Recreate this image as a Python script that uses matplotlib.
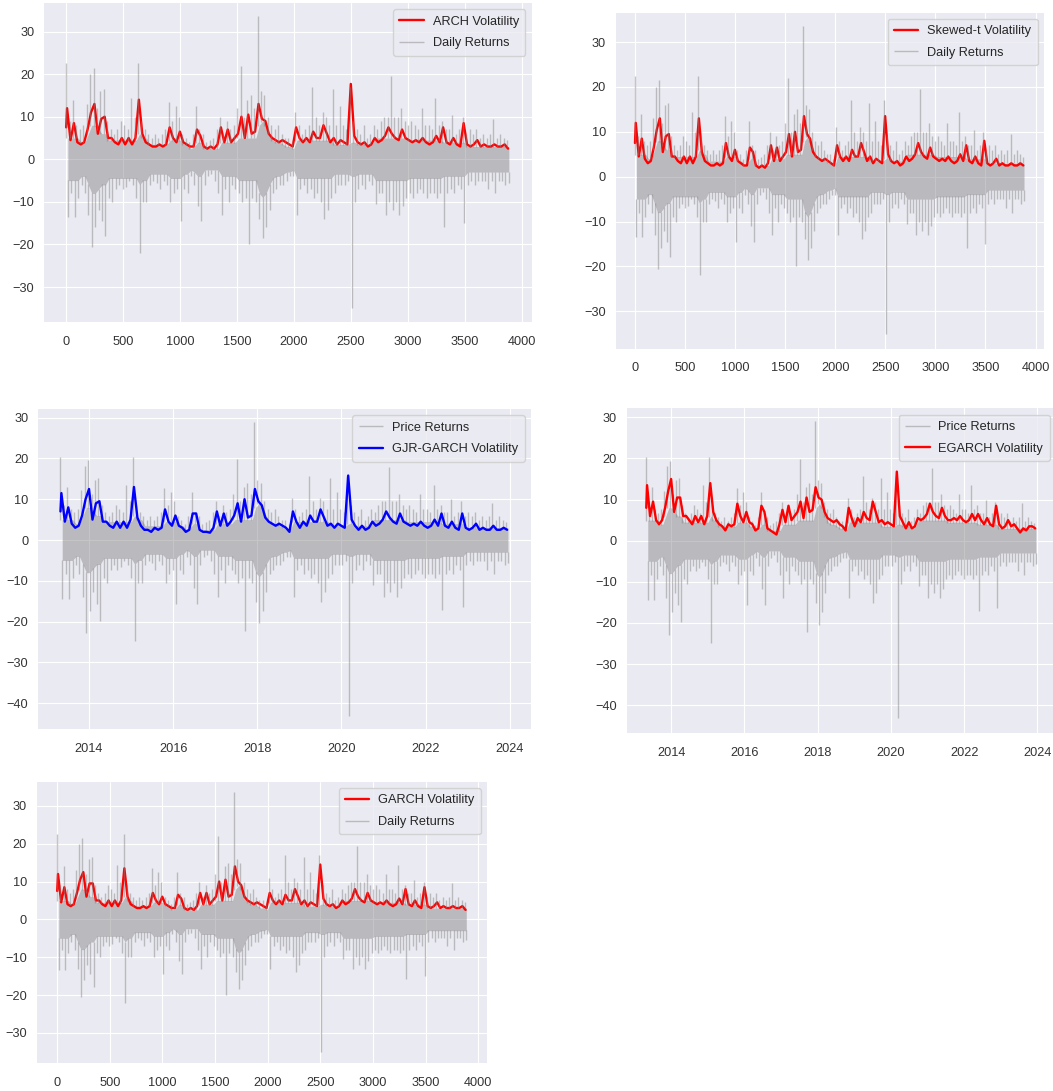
import numpy as np
import pandas as pd
import matplotlib
matplotlib.use("Agg")
import matplotlib.pyplot as plt
import matplotlib.dates as mdates
import seaborn as sns

# ---------------- data (one value per 30-day bin) ----------------
# Daily (simple) returns: bin maxima and minima, panels 1, 2, 5
RET_HI = [22.5, 9, 14, 8, 7, 8, 13, 20, 21.5, 12,
          16, 16.5, 9, 7, 6, 7, 9, 8, 7, 14.5,
          10, 22.5, 9, 7, 6, 5, 6, 5, 6, 7,
          13.5, 9, 12.5, 10, 6, 5, 4, 6, 12.5, 7,
          6, 4, 4.5, 5, 7, 10, 6, 9, 7, 8,
          12, 22, 10, 14, 15, 12, 33.7, 16, 15, 10,
          8, 7, 8, 6, 5, 5, 4, 11, 8, 6,
          7, 8, 17, 10, 8, 11, 10, 8, 16.5, 8,
          12.5, 8, 7, 17, 9, 7, 6, 8, 5, 6,
          8, 7, 9, 10, 10, 19.5, 10, 10, 12, 9,
          8, 9, 8, 7, 12, 8, 8, 7, 14.5, 8,
          9, 7, 7, 10.5, 6, 7, 10, 6, 7, 6,
          7, 5, 6, 5, 6, 9.5, 5, 6, 5, 4.5]
RET_LO = [-13.5, -8, -13.5, -9, -6, -8, -13, -20.5, -16, -12,
          -14.5, -18, -9, -10, -7, -6, -7, -6.5, -5, -6,
          -9, -22, -10, -10, -6, -5, -5.5, -7, -5, -6,
          -10, -8, -7, -14.5, -7, -8, -4, -6, -11, -14.5,
          -6, -4, -3.5, -5, -8, -13, -7, -10, -6, -7,
          -8, -10, -9, -20, -9, -10, -14, -18.5, -16, -12,
          -8, -7, -6, -6, -5, -4, -4, -13, -7, -6,
          -8, -7, -9, -8, -10, -14, -12, -9, -8, -6,
          -6, -6, -5, -35, -10, -7, -6, -7, -5, -6,
          -10.5, -8, -8, -13, -10, -12, -10, -13, -11, -9,
          -8, -9, -8, -7, -8, -9, -8, -8, -9, -8,
          -15.8, -8, -7, -8, -6, -7, -15, -6, -5, -6,
          -5, -5, -5, -7, -5, -8, -5, -5, -6, -5.5]

# Price (log) returns: bin maxima and minima, panels 3, 4
PR_HI = [20.3, 8.6, 13.1, 7.7, 6.8, 7.7, 12.2, 18.2, 19.5, 11.3,
         14.8, 15.3, 8.6, 6.8, 5.8, 6.8, 8.6, 7.7, 6.8, 13.5,
         9.5, 20.3, 8.6, 6.8, 5.8, 4.9, 5.8, 4.9, 5.8, 6.8,
         12.7, 8.6, 11.8, 9.5, 5.8, 4.9, 3.9, 5.8, 11.8, 6.8,
         5.8, 3.9, 4.4, 4.9, 6.8, 9.5, 5.8, 8.6, 6.8, 7.7,
         11.3, 19.9, 9.5, 13.1, 14.0, 11.3, 29.0, 14.8, 14.0, 9.5,
         7.7, 6.8, 7.7, 5.8, 4.9, 4.9, 3.9, 10.4, 7.7, 5.8,
         6.8, 7.7, 15.7, 9.5, 7.7, 10.4, 9.5, 7.7, 15.3, 7.7,
         11.8, 7.7, 6.8, 15.7, 8.6, 6.8, 5.8, 7.7, 4.9, 5.8,
         7.7, 6.8, 8.6, 9.5, 9.5, 17.8, 9.5, 9.5, 11.3, 8.6,
         7.7, 8.6, 7.7, 6.8, 11.3, 7.7, 7.7, 6.8, 13.5, 7.7,
         8.6, 6.8, 6.8, 10.0, 5.8, 6.8, 9.5, 5.8, 6.8, 5.8,
         6.8, 4.9, 5.8, 4.9, 5.8, 9.1, 4.9, 5.8, 4.9, 4.4]
PR_LO = [-14.5, -8.3, -14.5, -9.4, -6.2, -8.3, -13.9, -22.9, -17.4, -12.8,
         -15.7, -19.8, -9.4, -10.5, -7.3, -6.2, -7.3, -6.7, -5.1, -6.2,
         -9.4, -24.8, -10.5, -10.5, -6.2, -5.1, -5.7, -7.3, -5.1, -6.2,
         -10.5, -8.3, -7.3, -15.7, -7.3, -8.3, -4.1, -6.2, -11.7, -15.7,
         -6.2, -4.1, -3.6, -5.1, -8.3, -13.9, -7.3, -10.5, -6.2, -7.3,
         -8.3, -10.5, -9.4, -22.3, -9.4, -10.5, -15.1, -20.4, -17.4, -12.8,
         -8.3, -7.3, -6.2, -6.2, -5.1, -4.1, -4.1, -13.9, -7.3, -6.2,
         -8.3, -7.3, -9.4, -8.3, -10.5, -15.1, -12.8, -9.4, -8.3, -6.2,
         -6.2, -6.2, -5.1, -43.1, -10.5, -7.3, -6.2, -7.3, -5.1, -6.2,
         -11.1, -8.3, -8.3, -13.9, -10.5, -12.8, -10.5, -13.9, -11.7, -9.4,
         -8.3, -9.4, -8.3, -7.3, -8.3, -9.4, -8.3, -8.3, -9.4, -8.3,
         -17.2, -8.3, -7.3, -8.3, -6.2, -7.3, -16.3, -6.2, -5.1, -6.2,
         -5.1, -5.1, -5.1, -7.3, -5.1, -8.3, -5.1, -5.1, -6.2, -5.7]

# Half-width of the dense (solid) part of the returns band, per bin
CORE = [5, 5, 5, 5, 4, 4, 6, 8, 8, 7,
        6, 6, 4.5, 4.5, 4.5, 4.5, 4.5, 4.5, 4.5, 4.5,
        4.5, 6, 5, 5, 3.5, 3.5, 3.5, 3.5, 3.5, 3.5,
        4.5, 4.5, 4.5, 4.5, 3.5, 3.5, 2.5, 3, 4, 4,
        2.5, 2.5, 2.5, 2.5, 2.5, 4, 4, 4, 4, 4,
        5, 5, 5, 5, 5, 5, 8, 9, 8, 6,
        4.5, 4, 4, 3.5, 3, 3, 2.5, 4.5, 4.5, 4.5,
        4.5, 4.5, 4.5, 4.5, 4.5, 4.5, 4.5, 4.5, 3.5, 3.5,
        3.5, 3.5, 3.5, 4, 4, 3.5, 3.5, 3.5, 3.5, 3.5,
        5, 5, 5, 5, 5, 5, 5, 5, 5, 5,
        4.5, 4.5, 4.5, 4.5, 4.5, 4.5, 4.5, 4.5, 4.5, 4.5,
        4, 4, 4, 4, 4, 4, 4, 3, 3, 3,
        3, 3, 3, 3, 3, 3, 3, 3, 3, 3]

# Conditional volatility (first value = day 0, then one per bin)
ARCH_VOL = [7.5,
            12, 4.5, 8.5, 4, 3.5, 4, 7, 11, 13, 6,
            9.5, 10, 5, 5, 4, 3.5, 5, 3.5, 5, 3.5,
            5, 14, 6, 4, 3.5, 3, 3, 3.5, 3, 3.5,
            7.5, 5, 4, 6.5, 4, 3.5, 3, 3, 7, 5.5,
            3, 2.5, 3, 2.5, 3.5, 7.5, 4, 7, 4, 5,
            6, 10, 5, 10.5, 6, 6.5, 13, 9.5, 9, 6,
            5, 4.5, 4, 4.5, 4, 3.5, 3, 7.5, 5, 4,
            5, 4, 6.5, 5, 5, 8, 6, 4, 5, 3.5,
            4.5, 4, 3.5, 17.7, 5.5, 4, 3.5, 4, 3, 3.5,
            5, 4, 4.5, 5.5, 7.5, 6, 5, 4.5, 7, 5,
            4.5, 4, 4.5, 4, 5, 4, 3.5, 4, 5.5, 4,
            7.5, 4, 3.5, 5, 3.5, 3, 8.5, 3.5, 3, 3.5,
            4.5, 3, 3.5, 3, 3, 3.5, 3, 3, 3.5, 2.5]
SKEWT_VOL = [7.5,
             12, 4.5, 8.5, 4, 3, 3.5, 6.5, 10.5, 13, 5.5,
             9, 9.5, 4.5, 4.5, 3.5, 3, 4.5, 3, 4.5, 3,
             4.5, 13, 5.5, 3.5, 3, 2.5, 2.5, 3, 2.5, 3,
             7.5, 4.5, 3.5, 6, 3.5, 3, 2.5, 2.5, 6.5, 5.5,
             2.5, 2, 2.5, 2, 3, 7, 3.5, 6.5, 3.5, 4.5,
             5.5, 9.5, 4.5, 10, 5.5, 6, 13.5, 9.5, 8.5, 5.5,
             4.5, 4, 3.5, 4, 3.5, 3, 2.5, 7, 4.5, 3.5,
             4.5, 3.5, 6, 4.5, 4.5, 7.5, 5.5, 3.5, 4.5, 3,
             4, 3.5, 3, 13.5, 5, 3.5, 3, 3.5, 2.5, 3,
             4.5, 3.5, 4, 5, 7.5, 5.5, 4.5, 4, 6.5, 4.5,
             4, 3.5, 4, 3.5, 4.5, 3.5, 3, 3.5, 5, 3.5,
             7, 3.5, 3, 4.5, 3, 2.5, 8, 3, 2.5, 3,
             4, 2.5, 3, 2.5, 2.5, 3, 2.5, 2.5, 3, 2.5]
GARCH_VOL = [7.5,
             12, 4.5, 8.5, 4, 3.5, 4, 7, 10.5, 12.5, 6,
             9.5, 9.5, 5, 5, 4, 3.5, 5, 3.5, 5, 3.5,
             5, 13.5, 6, 4, 3.5, 3, 3, 3.5, 3, 3.5,
             7, 5, 4, 6, 4, 3.5, 3, 3, 6.5, 5.5,
             3, 2.5, 3, 2.5, 3.5, 7, 4, 7, 4, 5,
             6, 10, 5, 10.5, 6, 6.5, 14, 10, 9, 6,
             5, 4.5, 4, 4.5, 4, 3.5, 3, 7, 5, 4,
             5, 4, 6.5, 5, 5, 8, 6, 4, 5, 3.5,
             4.5, 4, 3.5, 14.5, 5.5, 4, 3.5, 4, 3, 3.5,
             5, 4, 4.5, 5.5, 8, 6, 5, 4.5, 7, 5,
             4.5, 4, 4.5, 4, 5, 4, 3.5, 4, 5.5, 4,
             8, 4, 3.5, 5, 3.5, 3, 8.5, 3.5, 3, 3.5,
             4.5, 3, 3.5, 3, 3, 3.5, 3, 3, 3.5, 2.5]
GJR_VOL = [7,
           11.5, 4.5, 8, 4, 3, 3.5, 6, 10, 12.5, 5,
           9, 9.5, 4.5, 4.5, 3.5, 3, 4.5, 3, 4.5, 3,
           5, 13, 5.5, 3.5, 2.5, 2.5, 2, 3, 2.5, 3,
           7.5, 4.5, 3.5, 6, 3.5, 3, 2, 2.5, 6.5, 6.5,
           2.5, 2, 2, 1.8, 3, 7, 3.5, 6.5, 3.5, 4.5,
           6, 9, 4.5, 10, 5.5, 6, 12.5, 9.5, 8.5, 5.5,
           4.5, 4, 3.5, 4, 3.5, 3, 2, 7, 4.5, 3,
           4.5, 3.5, 6, 4.5, 4.5, 7.5, 5.5, 3.5, 4, 3,
           4, 3.5, 3, 15.8, 5, 3.5, 2.5, 3.5, 2.5, 3,
           4.5, 3.5, 4, 5, 7, 5.5, 4.5, 4, 6.5, 4.5,
           4, 3.5, 4, 3.5, 4.5, 3.5, 3, 3.5, 5, 3.5,
           6.5, 3.5, 3, 4.5, 3, 2.5, 6.5, 3, 2.5, 3,
           4, 2.5, 3, 2.5, 2.5, 3.5, 2.5, 2.5, 3, 2.5]
EGARCH_VOL = [8,
              13.5, 6, 9.5, 5, 4, 5, 8, 12, 15, 7,
              10.5, 10.5, 6, 6, 5, 4, 6, 4.5, 6, 4,
              6, 14, 7, 5, 4, 3.5, 2.5, 4, 3.5, 4,
              9, 6, 4.5, 7, 4.5, 4, 2.5, 3, 8.5, 7,
              3, 2.5, 2, 1.5, 4, 7.5, 4.5, 8.5, 5, 6,
              7, 9.5, 5.5, 10.5, 7, 7.5, 13, 10.5, 10, 7,
              5.5, 5, 4.5, 5, 4, 3.5, 2.5, 8, 5.5, 3.5,
              5.5, 4.5, 7, 5.5, 5, 9.5, 7, 4.5, 5, 4,
              4.5, 4, 3.5, 16.8, 6, 4.5, 3, 4.5, 3, 3.5,
              5.5, 5, 5.5, 6.5, 9, 7, 6, 5.5, 8, 6,
              5, 5, 5.5, 5, 6, 5, 4.5, 5, 6.5, 5,
              6.5, 5, 4, 5.5, 4, 3.5, 8.5, 4, 3, 3.5,
              5, 3.5, 4, 3, 2, 3, 2.5, 3.5, 3.5, 3]

START_DATE = "2013-04-28"
BIN_DAYS = 30

for arr in (RET_HI, RET_LO, PR_HI, PR_LO, CORE):
    assert len(arr) == 130, len(arr)
for arr in (ARCH_VOL, SKEWT_VOL, GARCH_VOL, GJR_VOL, EGARCH_VOL):
    assert len(arr) == 131, len(arr)

# ---------------- positions ----------------
nb = len(RET_HI)
kb = np.arange(nb)
x_hi = kb * BIN_DAYS                       # positive spike of each bin
x_lo = kb * BIN_DAYS + BIN_DAYS / 2        # negative spike of each bin
x_core = kb * BIN_DAYS + BIN_DAYS / 2      # centre of each bin
vol_x = np.concatenate([[0], kb * BIN_DAYS + 8])
core = np.asarray(CORE, dtype=float)

start = pd.Timestamp(START_DATE)


def to_dates(x):
    return start + pd.to_timedelta(x, unit="D")


# ---------------- style ----------------
sns.set_style("darkgrid")
FS = 9.2
plt.rcParams["font.family"] = ["Liberation Sans", "DejaVu Sans"]
plt.rcParams["axes.unicode_minus"] = True

W, H = 1053, 1091
fig = plt.figure(figsize=(W / 100, H / 100), dpi=100)
fig.patch.set_facecolor("white")


def add_ax(left, top, right, bottom):
    return fig.add_axes([left / W, 1 - bottom / H, (right - left) / W, (bottom - top) / H])


GREY = "grey"
GALPHA = 0.45


def draw_returns(ax, xh, xl, xc, hi, lo, label):
    ax.fill_between(xc, -core, core, color=GREY, alpha=GALPHA, lw=0)
    hi = np.asarray(hi, dtype=float)
    lo = np.asarray(lo, dtype=float)
    ax.vlines(xh, core * 0.98, np.maximum(hi, core), colors=GREY, alpha=GALPHA, lw=1.0,
              label=label)
    ax.vlines(xl, np.minimum(lo, -core), -core * 0.98, colors=GREY, alpha=GALPHA, lw=1.0)


def style(ax, ylim, yticks):
    ax.set_ylim(*ylim)
    ax.set_yticks(yticks)
    ax.tick_params(axis="x", labelsize=FS, pad=10, length=0, colors="#333333")
    ax.tick_params(axis="y", labelsize=FS, pad=7, length=0, colors="#333333")
    for s in ax.spines.values():
        s.set_visible(False)


def legend(ax):
    ax.legend(loc="upper right", fontsize=FS, borderpad=0.5, handlelength=1.9,
              handletextpad=0.7, labelspacing=0.75, borderaxespad=0.5)


IDX_XLIM = (-194.5, 4084.5)
IDX_TICKS = np.arange(0, 4001, 500)


def index_panel(box, vol, label, ylim):
    ax = add_ax(*box)
    ax.plot(vol_x, vol, color="red", lw=1.7, label=label)
    draw_returns(ax, x_hi, x_lo, x_core, RET_HI, RET_LO, "Daily Returns")
    ax.set_xlim(*IDX_XLIM)
    ax.set_xticks(IDX_TICKS)
    style(ax, ylim, np.arange(-30, 31, 10))
    legend(ax)
    return ax


def date_panel(box, vol, label, color, ylim):
    ax = add_ax(*box)
    draw_returns(ax, to_dates(x_hi), to_dates(x_lo), to_dates(x_core), PR_HI, PR_LO,
                 "Price Returns")
    ax.plot(to_dates(vol_x), vol, color=color, lw=1.7, label=label)
    ax.set_xlim(start - pd.Timedelta(days=195), start + pd.Timedelta(days=4085))
    ax.xaxis.set_major_locator(mdates.YearLocator(2))
    ax.xaxis.set_major_formatter(mdates.DateFormatter("%Y"))
    style(ax, ylim, np.arange(-40, 31, 10))
    legend(ax)
    return ax


index_panel((44, 3, 531.6, 322), ARCH_VOL, "ARCH Volatility", (-38.2, 36.7))
index_panel((615.5, 12.5, 1044, 348.5), SKEWT_VOL, "Skewed-t Volatility", (-38.3, 36.6))
date_panel((38, 409, 531, 729), GJR_VOL, "GJR-GARCH Volatility", "blue", (-46.3, 32.1))
date_panel((626.7, 408.3, 1056, 732.7), EGARCH_VOL, "EGARCH Volatility", "red", (-46.7, 32.2))
index_panel((36.7, 781.7, 487.3, 1062.7), GARCH_VOL, "GARCH Volatility", (-37.9, 36.4))

fig.savefig("out.png", dpi=100, facecolor="white")
